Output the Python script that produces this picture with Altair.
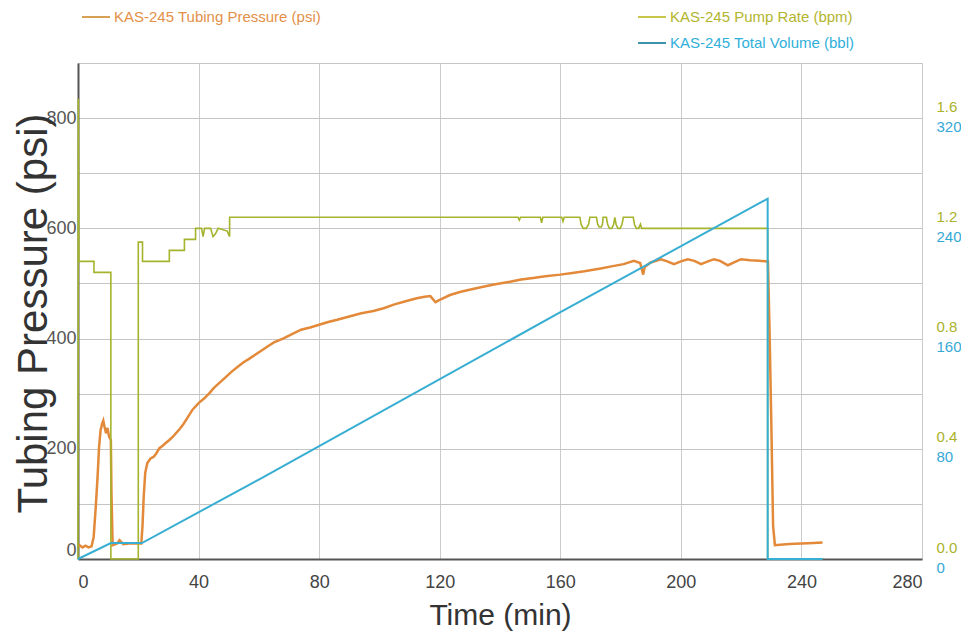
import altair as alt
import pandas as pd

# ---------------- data ----------------
p_time = [0, 0.5, 1.5, 2.5, 3.5, 4.5, 5.2, 5.9, 6.5, 7.0, 7.5, 8.0, 8.4, 8.8, 9.3, 9.8, 10.3, 10.9,
          11.1, 11.5, 13, 13.8, 15, 17, 19, 21.0, 21.4, 21.8, 22.3, 23, 24, 25.2, 26, 27, 28, 29, 30.3,
          31.5, 33.6, 35, 36.5, 38, 40, 42, 43.6, 45, 47, 49.2, 51, 53, 54.7, 57, 60.3, 63, 65, 68, 71,
          74, 77, 80, 83, 86, 90, 94, 98, 101.4, 105, 109, 112.4, 115, 116.9, 118.6, 120, 123.4, 127,
          131, 134.4, 138, 143.3, 147, 151, 155, 160, 164, 168, 173.4, 177, 181, 184.4, 186.5, 187.5,
          188, 190, 193.4, 195.5, 197.7, 200, 202.3, 204.5, 206.7, 209, 211, 213, 215.6, 218, 220, 223,
          226, 228.9, 229.4, 230.0, 230.6, 231.2, 233, 236, 240, 244, 247]
p_psi = [22, 25, 21, 24, 21, 23, 40, 95, 150, 204, 234, 245, 251, 240, 228, 238, 222, 216,
         120, 25, 28, 34, 27, 28, 28, 28, 60, 113, 156, 174, 182, 186, 192, 201, 205, 210, 216,
         222, 235, 245, 258, 271, 283, 292, 301, 310, 320, 331, 340, 349, 356, 364, 376, 386, 393, 400, 408,
         416, 420, 425, 430, 434, 440, 446, 450, 455, 462, 468, 473, 476, 477, 466, 470, 479, 485,
         490, 494, 498, 503, 507, 510, 513, 516, 519, 522, 527, 531, 535, 541, 537, 516,
         530, 538, 544, 540, 535, 540, 544, 541, 535, 540, 544, 541, 533, 539, 544, 542,
         541, 540, 420, 250, 60, 25, 26, 27, 28, 29, 30]

r_time = [0, 0.1, 0.3, 5.3, 5.3, 10.9, 10.9, 20, 20, 21.4, 21.4, 30.3, 30.3, 35.3, 35.3, 39, 39,
          41, 41.5, 42, 44, 44.8, 45.6, 46.5, 49.5, 50.3, 50.3, 146, 146.4, 146.8, 153.4, 153.8, 154.2,
          160.5, 160.9, 161.3,
          166.5, 166.9, 167.6, 168.6, 169.4, 169.8,
          172, 172.4, 172.9, 173.6, 174.0, 174.2,
          175.3, 175.7, 176.3, 177.1, 177.7, 178.1, 178.5, 179.1, 179.9, 180.5, 180.9,
          184.2, 184.6, 185.2, 186.0, 186.6, 187, 228.8, 228.8, 247]
r_bpm = [0, 1.67, 1.08, 1.08, 1.04, 1.04, 0, 0, 1.15, 1.15, 1.08, 1.08, 1.12, 1.12, 1.16, 1.16, 1.2,
         1.2, 1.17, 1.2, 1.2, 1.17, 1.18, 1.2, 1.19, 1.17, 1.24, 1.24, 1.23, 1.24, 1.24, 1.22, 1.24,
         1.24, 1.225, 1.24,
         1.24, 1.215, 1.2, 1.2, 1.215, 1.24,
         1.24, 1.215, 1.205, 1.205, 1.215, 1.24,
         1.24, 1.215, 1.2, 1.2, 1.215, 1.24, 1.215, 1.2, 1.2, 1.215, 1.24,
         1.24, 1.215, 1.2, 1.2, 1.215, 1.2, 1.2, 0, 0]

v_time = [0, 10.9, 21.2, 60.3, 159.9, 228.8, 228.8, 247]
v_bbl = [0, 11.6, 11.6, 58.0, 179.0, 261.5, 0, 0]

x_ticks = [0, 40, 80, 120, 160, 200, 240, 280]
psi_grid = [0, 100, 200, 300, 400, 500, 600, 700, 800, 900]
rate_ticks = [0.0, 0.4, 0.8, 1.2, 1.6]
vol_ticks = [0, 80, 160, 240, 320]

legend_labels = ["KAS-245 Tubing Pressure (psi)", "KAS-245 Pump Rate (bpm)", "KAS-245 Total Volume (bbl)"]

# ---------------- styling ----------------
ORANGE = "#e3893a"
GREEN = "#a5b42c"
CYAN = "#37aed2"
FONT = "Liberation Sans"

pressure_df = pd.DataFrame({"t": p_time, "v": p_psi, "i": range(len(p_time))})
rate_df = pd.DataFrame({"t": r_time, "v": r_bpm, "i": range(len(r_time))})
vol_df = pd.DataFrame({"t": v_time, "v": v_bbl, "i": range(len(v_time))})

x_enc = alt.X(
    "t:Q",
    scale=alt.Scale(domain=[0, 280], nice=False, zero=False),
    axis=alt.Axis(
        values=x_ticks, title="Time (min)", grid=True, gridColor="#cccccc", gridWidth=1,
        ticks=False, tickSize=0, labelPadding=14, labelFont=FONT, labelFontSize=18,
        labelColor="#444444", domainColor="#555555", domainWidth=2,
        titleFont=FONT, titleFontSize=30, titleFontWeight="normal", titleColor="#333333",
        titleX=422, titleY=56, titleBaseline="middle", titleAlign="center",
    ),
)

pressure = alt.Chart(pressure_df).mark_line(color=ORANGE, strokeWidth=2.5).encode(
    x=x_enc,
    y=alt.Y(
        "v:Q",
        scale=alt.Scale(domain=[0, 900], nice=False),
        axis=alt.Axis(
            orient="left", values=psi_grid,
            labelExpr="datum.value % 200 == 0 && datum.value <= 800 ? datum.label : ''",
            grid=True, gridColor="#c4c4c4", gridWidth=1, ticks=False, tickSize=0,
            labelPadding=2, labelFlush=True, labelFont=FONT, labelFontSize=18, labelColor="#555555",
            domainColor="#555555", domainWidth=2,
            title="Tubing Pressure (psi)", titleFont=FONT, titleFontSize=42, titleFontWeight="normal",
            titleColor="#333333", titleX=-32, titleY=250, titleAngle=270,
            titleAlign="center", titleBaseline="alphabetic",
        ),
    ),
    order=alt.Order("i:Q"),
)

rate = alt.Chart(rate_df).mark_line(color=GREEN, strokeWidth=1.6).encode(
    x=x_enc,
    y=alt.Y(
        "v:Q",
        scale=alt.Scale(domain=[0, 1.8], nice=False),
        axis=alt.Axis(
            orient="right", values=rate_ticks, format=".1f", grid=False, domain=False,
            ticks=False, tickSize=0, labelPadding=14, labelOffset=-12,
            labelFont=FONT, labelFontSize=15, labelColor="#aab22a", title=None,
        ),
    ),
    order=alt.Order("i:Q"),
)

volume = alt.Chart(vol_df).mark_line(color=CYAN, strokeWidth=2).encode(
    x=x_enc,
    y=alt.Y(
        "v:Q",
        scale=alt.Scale(domain=[0, 360], nice=False),
        axis=alt.Axis(
            orient="right", values=vol_ticks, format="d", grid=False, domain=False,
            ticks=False, tickSize=0, labelPadding=14, labelOffset=8,
            labelFont=FONT, labelFontSize=15, labelColor="#35a9d6", title=None,
        ),
    ),
    order=alt.Order("i:Q"),
)

# ---------------- legend drawn as text + short rules ----------------
def legend_item(label, text_color, line_color, x_line, x_text, y):
    df = pd.DataFrame({"label": [label]})
    rule = alt.Chart(df).mark_rule(color=line_color, strokeWidth=2).encode(
        x=alt.value(x_line), x2=alt.value(x_text - 4), y=alt.value(y)
    )
    txt = alt.Chart(df).mark_text(
        align="left", baseline="middle", font=FONT, fontSize=15, color=text_color
    ).encode(x=alt.value(x_text), y=alt.value(y), text="label:N")
    return rule + txt

leg1 = legend_item(legend_labels[0], "#e39048", "#d8a055", 4, 36, -46)
leg2 = legend_item(legend_labels[1], "#b3b52e", "#c6c64a", 560, 592, -46)
leg3 = legend_item(legend_labels[2], "#2fb0da", "#3a92ab", 560, 592, -20)

chart = (
    alt.layer(pressure, rate, volume, leg1, leg2, leg3)
    .resolve_scale(y="independent")
    .properties(
        width=844,
        height=496,
        padding={"left": 70, "top": 55, "right": 39, "bottom": 77},
        autosize=alt.AutoSizeParams(type="none"),
    )
    .configure_view(stroke="#555555", strokeWidth=1.5)
    .configure(background="white")
)

chart.save("out.html", embed_options={"renderer": "svg", "actions": False})
